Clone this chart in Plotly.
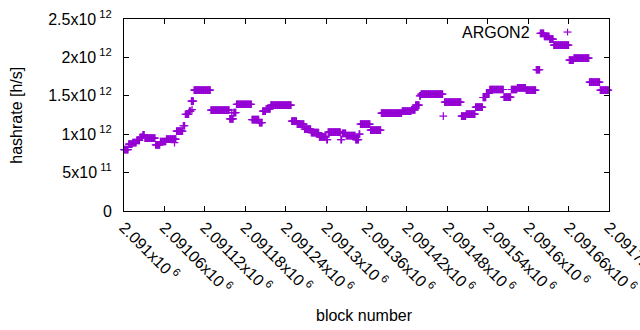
import plotly.graph_objects as go

# ---- data ----
block_base = 2091000
# constant-hashrate runs: start offset, end offset (inclusive, in blocks from block_base), hashrate [1e12 h/s]
seg_start = [0, 7, 13, 19, 24, 28, 31, 47, 54, 63, 78, 88, 91, 97, 100, 104, 129, 157, 163, 167,
             190, 201, 206, 211, 218, 249, 257, 268, 278, 290, 301, 303, 322, 324, 330, 344, 349, 351, 366, 382,
             413, 427, 433, 439, 441, 476, 501, 508, 522, 533, 538, 543, 564, 575, 584, 597, 612, 618, 624, 632,
             638, 661, 668, 691, 707]
seg_end = [6, 12, 18, 23, 27, 30, 46, 53, 62, 77, 87, 90, 96, 99, 103, 128, 156, 162, 166, 189,
           200, 205, 210, 217, 248, 256, 267, 277, 289, 300, 302, 321, 323, 329, 343, 348, 350, 365, 381, 412,
           426, 432, 438, 440, 473, 500, 507, 521, 532, 537, 542, 563, 574, 583, 596, 611, 617, 623, 631, 637,
           660, 667, 690, 706, 719]
seg_value = [0.80, 0.87, 0.89, 0.92, 0.96, 0.99, 0.948, 0.86, 0.905, 0.935, 1.04, 1.11, 1.26, 1.30, 1.43, 1.575, 1.313, 1.20, 1.28, 1.39,
             1.19, 1.15, 1.30, 1.33, 1.378, 1.17, 1.131, 1.065, 1.021, 0.965, 0.93, 1.026, 0.93, 1.01, 0.982, 0.93, 1.0, 1.131, 1.052, 1.275,
             1.30, 1.317, 1.378, 1.50, 1.522, 1.417, 1.235, 1.261, 1.352, 1.478, 1.53, 1.582, 1.483, 1.582, 1.604, 1.574, 1.839, 2.312, 2.273, 2.239,
             2.161, 1.965, 1.991, 1.678, 1.574]
# isolated outliers
iso_offset = [75, 101, 160, 474]
iso_value = [0.89, 1.32, 1.28, 1.235]

xtick_vals = [2091000 + 60 * i for i in range(13)]
xtick_text = ["2.091x10<sup> 6</sup>", "2.09106x10<sup> 6</sup>", "2.09112x10<sup> 6</sup>", "2.09118x10<sup> 6</sup>",
              "2.09124x10<sup> 6</sup>", "2.0913x10<sup> 6</sup>", "2.09136x10<sup> 6</sup>", "2.09142x10<sup> 6</sup>",
              "2.09148x10<sup> 6</sup>", "2.09154x10<sup> 6</sup>", "2.0916x10<sup> 6</sup>", "2.09166x10<sup> 6</sup>",
              "2.09172x10<sup> 6</sup>"]
ytick_vals = [0, 5e11, 1e12, 1.5e12, 2e12, 2.5e12]
ytick_text = ["0", "5x10<sup> 11</sup>", "1x10<sup> 12</sup>", "1.5x10<sup> 12</sup>", "2x10<sup> 12</sup>", "2.5x10<sup> 12</sup>"]

# ---- build series ----
xs, ys = [], []
for s, e, v in zip(seg_start, seg_end, seg_value):
    for b in range(s, e + 1):
        xs.append(block_base + b)
        ys.append(v * 1e12)
for b, v in zip(iso_offset, iso_value):
    xs.append(block_base + b)
    ys.append(v * 1e12)

color = "#9400D3"
font = dict(family="Liberation Sans, Arial, sans-serif", size=16, color="black")

fig = go.Figure()
fig.add_trace(go.Scatter(
    x=xs, y=ys, mode="markers", name="ARGON2",
    marker=dict(symbol="cross-thin", size=5.5, color=color, line=dict(color=color, width=1.2)),
    showlegend=False, cliponaxis=False, hoverinfo="skip",
))

axis_common = dict(
    showgrid=False, zeroline=False, showline=True, linecolor="black", linewidth=1,
    mirror="allticks", ticks="inside", ticklen=5, tickcolor="black", tickwidth=1,
    tickfont=font, automargin=False, ticklabeloverflow="allow",
)
fig.update_layout(
    width=640, height=330,
    margin=dict(l=124, r=31, t=19, b=119, autoexpand=False),
    paper_bgcolor="white", plot_bgcolor="white",
    font=font,
    xaxis=dict(range=[2091000, 2091720], tickmode="array", tickvals=xtick_vals, ticktext=xtick_text,
               tickangle=45, **axis_common),
    yaxis=dict(range=[0, 2.5e12], tickmode="array", tickvals=ytick_vals, ticktext=ytick_text,
               ticklabelstandoff=8, **axis_common),
    annotations=[
        dict(text="hashrate [h/s]", xref="paper", yref="paper", x=-0.2233, y=0.5, textangle=-90,
             showarrow=False, xanchor="center", yanchor="middle", font=font),
        dict(text="block number", xref="paper", yref="paper", x=0.495, y=-0.5425,
             showarrow=False, xanchor="center", yanchor="middle", font=font),
        dict(text="ARGON2", xref="paper", yref="paper", x=0.841, y=0.932,
             showarrow=False, xanchor="right", yanchor="middle", font=font),
    ],
    shapes=[
        dict(type="line", xref="paper", yref="paper", x0=0.9063, x1=0.9227, y0=0.932, y1=0.932,
             line=dict(color=color, width=1.2)),
        dict(type="line", xref="paper", yref="paper", x0=0.9145, x1=0.9145, y0=0.914, y1=0.950,
             line=dict(color=color, width=1.2)),
    ],
)

fig.write_html("out.html", config={"displayModeBar": False},
               post_script="document.body.style.margin='0';document.body.style.overflow='hidden';")
